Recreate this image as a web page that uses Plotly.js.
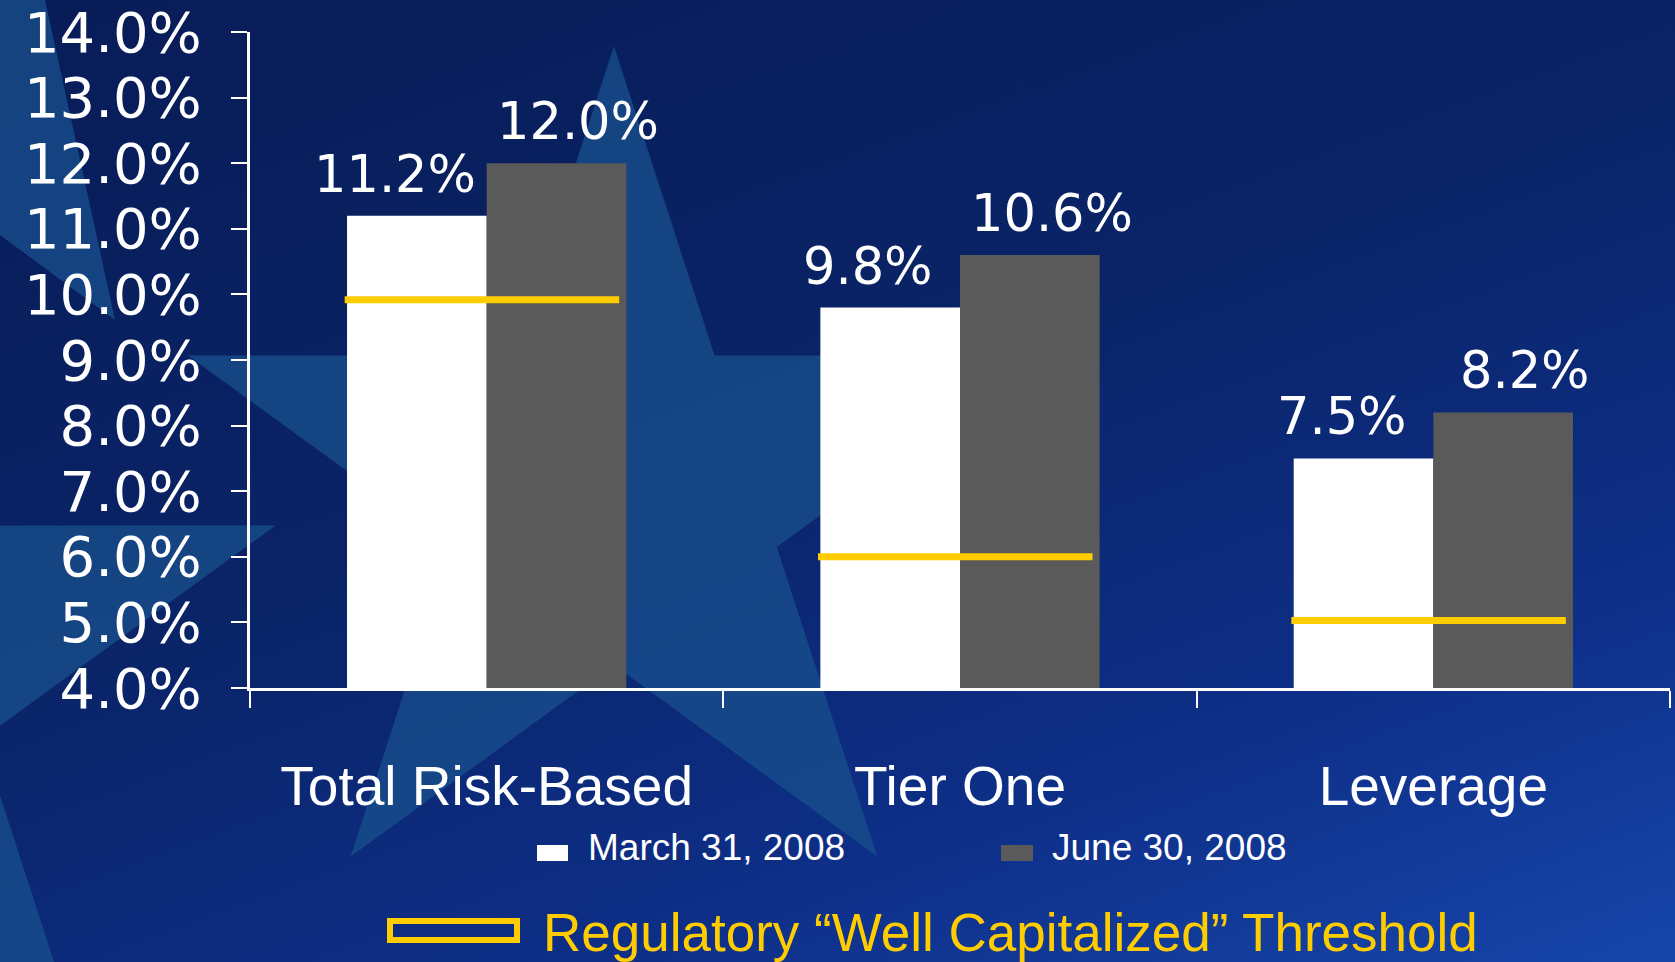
<!DOCTYPE html>
<html>
<head>
<meta charset="utf-8">
<script src="https://cdn.plot.ly/plotly-3.0.1.min.js"></script>
<style>
  html, body { margin: 0; padding: 0; }
  body {
    width: 1675px; height: 962px; overflow: hidden;
    background: linear-gradient(160deg, #081c57 0%, #0a2468 45%, #0e2f88 75%, #1646aa 100%);
  }
  #chart { width: 1675px; height: 962px; }
</style>
</head>
<body>
<div id="chart"></div>
<script>
// Data
const categories = ['Total Risk-Based', 'Tier One', 'Leverage'];
const seriesNames = ['March 31, 2008', 'June 30, 2008'];
const march2008 = [11.2, 9.8, 7.5];
const june2008 = [12.0, 10.6, 8.2];
const wellCapitalized = [9.92, 6.0, 5.03]; // yellow threshold marks
const yTicks = [4, 5, 6, 7, 8, 9, 10, 11, 12, 13, 14];
const thresholdLabel = 'Regulatory \u201cWell Capitalized\u201d Threshold';

// Plot area in pixels (used for paper-referenced decorations)
const W = 1675, H = 962;
const mL = 250, mR = 5, mT = 32, mB = 274;
const px = x => (x - mL) / (W - mL - mR);
const py = y => (H - mB - y) / (H - mT - mB);

const numFont = 'DejaVu Sans, Verdana, sans-serif';
const txtFont = 'Liberation Sans, Arial, sans-serif';

// background stars
function starPath(cx, cy, R) {
  const r = R * 0.382;
  let d = '';
  for (let k = 0; k < 10; k++) {
    const ang = -Math.PI / 2 + k * Math.PI / 5;
    const rad = k % 2 === 0 ? R : r;
    const x = cx + rad * Math.cos(ang), y = cy + rad * Math.sin(ang);
    d += (k === 0 ? 'M' : 'L') + px(x).toFixed(4) + ',' + py(y).toFixed(4);
  }
  return d + 'Z';
}
const starFill = 'rgba(24,78,140,0.78)';
const shapes = [
  { type: 'path', xref: 'paper', yref: 'paper', layer: 'below', path: starPath(614, 494, 448),
    fillcolor: starFill, line: { width: 0 } },
  { type: 'path', xref: 'paper', yref: 'paper', layer: 'below', path: starPath(-200, 680, 500),
    fillcolor: starFill, line: { width: 0 } },
  { type: 'path', xref: 'paper', yref: 'paper', layer: 'below',
    path: 'M' + px(0) + ',' + py(0) + 'L' + px(45) + ',' + py(0) + 'L' + px(115) + ',' + py(320) + 'L' + px(0) + ',' + py(235) + 'Z',
    fillcolor: starFill, line: { width: 0 } }
];

// threshold lines per category
wellCapitalized.forEach((v, i) => {
  shapes.push({ type: 'line', xref: 'x', yref: 'y', x0: i - 0.3, x1: i + 0.28, y0: v, y1: v,
    line: { color: '#ffcc00', width: 7 }, layer: 'above' });
});

// legend swatches
shapes.push({ type: 'rect', xref: 'paper', yref: 'paper', x0: px(537), x1: px(568), y0: py(861), y1: py(845),
  fillcolor: '#ffffff', line: { width: 0 } });
shapes.push({ type: 'rect', xref: 'paper', yref: 'paper', x0: px(1001), x1: px(1033), y0: py(861), y1: py(845),
  fillcolor: '#5a5a5a', line: { width: 0 } });
shapes.push({ type: 'rect', xref: 'paper', yref: 'paper', x0: px(390), x1: px(517), y0: py(940), y1: py(921),
  fillcolor: 'rgba(0,0,0,0)', line: { color: '#ffcc00', width: 6 } });

// value labels
const annotations = [];
categories.forEach((c, i) => {
  annotations.push({ x: i - 0.1475, y: march2008[i], xref: 'x', yref: 'y', text: march2008[i].toFixed(1) + '%',
    showarrow: false, yanchor: 'bottom', xshift: -22, yshift: 10,
    font: { family: numFont, size: 51, color: '#ffffff' } });
  annotations.push({ x: i + 0.1475, y: june2008[i], xref: 'x', yref: 'y', text: june2008[i].toFixed(1) + '%',
    showarrow: false, yanchor: 'bottom', xshift: 22, yshift: 10,
    font: { family: numFont, size: 51, color: '#ffffff' } });
});
annotations.push({ xref: 'paper', yref: 'paper', x: px(586), y: py(847), xanchor: 'left', yanchor: 'middle',
  text: seriesNames[0], showarrow: false, font: { family: txtFont, size: 37, color: '#ffffff' } });
annotations.push({ xref: 'paper', yref: 'paper', x: px(1050), y: py(847), xanchor: 'left', yanchor: 'middle',
  text: seriesNames[1], showarrow: false, font: { family: txtFont, size: 37, color: '#ffffff' } });
annotations.push({ xref: 'paper', yref: 'paper', x: px(541), y: py(932), xanchor: 'left', yanchor: 'middle',
  text: thresholdLabel, showarrow: false, font: { family: txtFont, size: 53, color: '#ffcc00' } });

const traces = [
  { type: 'bar', name: seriesNames[0], x: categories, y: march2008, marker: { color: '#ffffff' } },
  { type: 'bar', name: seriesNames[1], x: categories, y: june2008, marker: { color: '#5a5a5a' } }
];

const layout = {
  width: W, height: H,
  margin: { l: mL, r: mR, t: mT, b: mB },
  paper_bgcolor: 'rgba(0,0,0,0)',
  plot_bgcolor: 'rgba(0,0,0,0)',
  barmode: 'group',
  bargap: 0.41,
  bargroupgap: 0,
  showlegend: false,
  xaxis: {
    type: 'category',
    tickson: 'boundaries',
    ticks: 'outside', ticklen: 17, tickwidth: 2, tickcolor: '#ffffff',
    showline: true, linecolor: '#ffffff', linewidth: 3,
    showgrid: false, zeroline: false,
    ticklabelstandoff: 48,
    tickfont: { family: txtFont, size: 55, color: '#ffffff' }
  },
  yaxis: {
    range: [4, 14],
    tickmode: 'array', tickvals: yTicks,
    ticktext: yTicks.map(v => v.toFixed(1) + '%'),
    ticklabeloverflow: 'allow',
    ticks: 'outside', ticklen: 16, tickwidth: 2, tickcolor: '#ffffff',
    showline: true, linecolor: '#ffffff', linewidth: 3,
    showgrid: false, zeroline: false,
    ticklabelstandoff: 18,
    tickfont: { family: numFont, size: 56, color: '#ffffff' }
  },
  shapes: shapes,
  annotations: annotations
};

Plotly.newPlot('chart', traces, layout, { displayModeBar: false, staticPlot: true });
</script>
</body>
</html>
